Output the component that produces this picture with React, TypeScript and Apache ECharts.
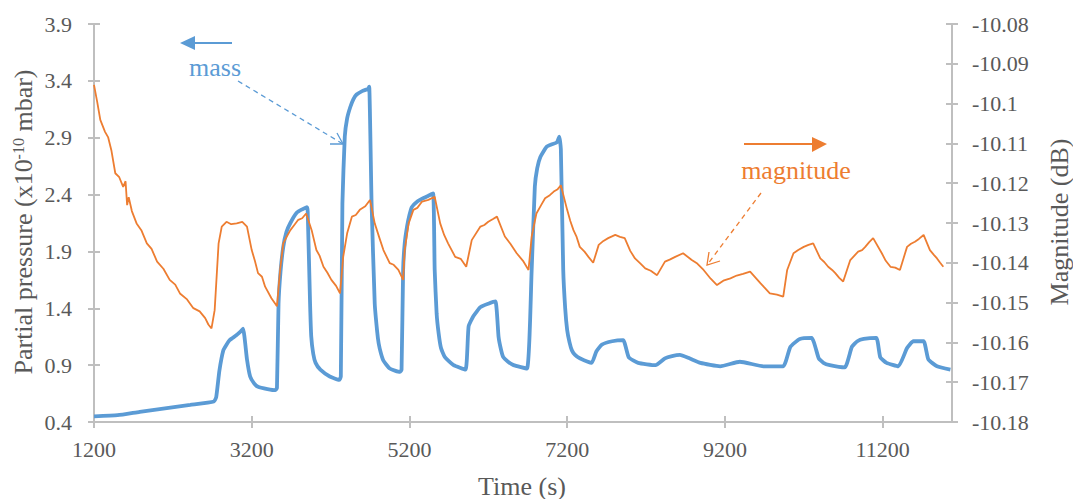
import React, { useEffect, useRef } from "react";
import * as echarts from "echarts";

// ---- data ----
const xTicks = [1200, 3200, 5200, 7200, 9200, 11200];
const leftTicks = [0.4, 0.9, 1.4, 1.9, 2.4, 2.9, 3.4, 3.9];
const rightTicks = [-10.18, -10.17, -10.16, -10.15, -10.14, -10.13, -10.12, -10.11, -10.1, -10.09, -10.08];

const massTime = [
  1200, 1500, 1780, 2100, 2420, 2720, 2750, 2790, 2840, 2880, 2920, 3000, 3050, 3090, 3140, 3180, 3230, 3280, 3400,
  3500, 3520, 3540, 3565, 3600, 3640, 3690, 3770, 3840, 3900, 3910, 3940, 3955, 3980, 4010, 4070, 4190, 4310, 4330,
  4350, 4380, 4410, 4450, 4490, 4530, 4600, 4680, 4690, 4720, 4760, 4790, 4810, 4840, 4870, 4950, 5080, 5100, 5120,
  5140, 5170, 5200, 5230, 5300, 5380, 5440, 5500, 5520, 5545, 5570, 5600, 5650, 5760, 5910, 5950, 6010, 6100, 6200,
  6290, 6330, 6360, 6390, 6450, 6520, 6690, 6750, 6790, 6820, 6860, 6940, 7000, 7070, 7100, 7120, 7150, 7175, 7200,
  7230, 7260, 7300, 7360, 7510, 7570, 7640, 7770, 7910, 7980, 8100, 8320, 8440, 8530, 8630, 8750, 8890, 9140, 9390,
  9690, 9940, 10030, 10150, 10300, 10390, 10450, 10530, 10720, 10810, 10880, 10960, 11120, 11170, 11250, 11400,
  11510, 11590, 11720, 11780, 11890, 12060,
];
const massValue = [
  0.45, 0.46, 0.49, 0.52, 0.55, 0.58, 0.62, 0.85, 1.03, 1.08, 1.12, 1.16, 1.19, 1.22, 0.95, 0.8, 0.74, 0.71, 0.69,
  0.68, 0.7, 1.44, 1.72, 1.94, 2.07, 2.15, 2.24, 2.27, 2.29, 2.25, 1.44, 1.15, 1.0, 0.92, 0.86, 0.8, 0.77, 0.8,
  2.32, 2.91, 3.07, 3.17, 3.24, 3.28, 3.31, 3.33, 3.35, 2.32, 1.44, 1.2, 1.09, 1.0, 0.94, 0.87, 0.84, 0.86, 1.74,
  1.97, 2.12, 2.22, 2.29, 2.34, 2.37, 2.39, 2.41, 1.74, 1.35, 1.18, 1.05, 0.97, 0.9, 0.86, 1.24, 1.33, 1.41, 1.44,
  1.46, 1.15, 1.04, 0.97, 0.93, 0.9, 0.87, 1.74, 2.47, 2.63, 2.73, 2.82, 2.84, 2.86, 2.91, 2.8, 1.74, 1.4, 1.21,
  1.1, 1.03, 0.99, 0.96, 0.92, 1.02, 1.08, 1.11, 1.12, 0.97, 0.92, 0.9, 0.96, 0.98, 0.99, 0.96, 0.92, 0.89, 0.93,
  0.89, 0.89, 1.06, 1.13, 1.14, 0.96, 0.92, 0.9, 0.88, 1.06, 1.11, 1.13, 1.14, 0.97, 0.92, 0.89,
  1.05, 1.11, 1.11, 0.95, 0.89, 0.86,
];

const magTime = [
  1200, 1240, 1280, 1340, 1380, 1420, 1470, 1520, 1570, 1600, 1620, 1640, 1680, 1740, 1800, 1870, 1930, 2000, 2080,
  2160, 2230, 2290, 2380, 2460, 2540, 2610, 2650, 2690, 2730, 2780, 2820, 2880, 2940, 3010, 3080, 3140, 3200, 3240,
  3280, 3330, 3370, 3450, 3520, 3560, 3600, 3650, 3690, 3740, 3790, 3840, 3890, 3960, 4020, 4060, 4110, 4160, 4210,
  4270, 4320, 4360, 4410, 4470, 4520, 4570, 4640, 4700, 4760, 4820, 4870, 4950, 5000, 5060, 5120, 5140, 5190, 5250,
  5300, 5360, 5440, 5520, 5590, 5640, 5690, 5780, 5850, 5920, 5990, 6100, 6150, 6200, 6260, 6310, 6410, 6480, 6560,
  6640, 6710, 6750, 6810, 6870, 6920, 6980, 7030, 7080, 7120, 7200, 7240, 7280, 7320, 7360, 7420, 7470, 7530, 7600,
  7660, 7720, 7810, 7870, 7930, 8000, 8060, 8130, 8190, 8260, 8340, 8440, 8500, 8570, 8670, 8780, 8850, 8930, 9020,
  9100, 9180, 9270, 9350, 9430, 9520, 9650, 9700, 9770, 9860, 9940, 9990, 10070, 10130, 10200, 10260, 10320, 10410,
  10460, 10510, 10560, 10600, 10650, 10700, 10790, 10890, 10940, 10980, 11030, 11080, 11190, 11240, 11300, 11360,
  11420, 11510, 11560, 11610, 11660, 11720, 11800, 11850, 11890, 11930, 11970,
];
const magValue = [
  -10.0953, -10.0995, -10.1041, -10.1071, -10.1085, -10.1117, -10.1175, -10.1185, -10.1209, -10.1195, -10.1255,
  -10.1235, -10.127, -10.1301, -10.1318, -10.1351, -10.1365, -10.1397, -10.1415, -10.1443, -10.1455, -10.1477,
  -10.1492, -10.1514, -10.1522, -10.1539, -10.1555, -10.1565, -10.1519, -10.1351, -10.1309, -10.1297, -10.1303,
  -10.1301, -10.1297, -10.1309, -10.1368, -10.1395, -10.1426, -10.1435, -10.146, -10.1489, -10.1509, -10.1418,
  -10.1351, -10.1332, -10.1318, -10.1305, -10.1292, -10.1288, -10.1276, -10.1318, -10.1368, -10.1382, -10.141,
  -10.1425, -10.1443, -10.1458, -10.1477, -10.1385, -10.1326, -10.1284, -10.128, -10.1267, -10.1258, -10.1242,
  -10.1301, -10.1338, -10.1368, -10.1401, -10.1405, -10.1418, -10.1443, -10.1368, -10.1301, -10.1267, -10.1262,
  -10.1246, -10.1242, -10.1234, -10.1301, -10.133, -10.1351, -10.1385, -10.139, -10.141, -10.1343, -10.1309,
  -10.1305, -10.1297, -10.129, -10.1284, -10.1334, -10.1352, -10.1376, -10.1395, -10.1418, -10.1334, -10.1276,
  -10.1255, -10.1238, -10.123, -10.1221, -10.1215, -10.1205, -10.1267, -10.1295, -10.1318, -10.1335, -10.136,
  -10.1372, -10.1385, -10.14, -10.1355, -10.1345, -10.1338, -10.133, -10.1335, -10.1338, -10.137, -10.1389,
  -10.1402, -10.1414, -10.142, -10.1431, -10.1397, -10.1392, -10.1385, -10.1376, -10.1393, -10.1402, -10.1418,
  -10.144, -10.1456, -10.1445, -10.1439, -10.1432, -10.1428, -10.1422, -10.1451, -10.1462, -10.1477, -10.148,
  -10.1485, -10.1418, -10.1376, -10.1368, -10.136, -10.1355, -10.1351, -10.1389, -10.1398, -10.141, -10.1418,
  -10.1426, -10.1438, -10.1447, -10.1393, -10.1372, -10.1368, -10.136, -10.1348, -10.1338, -10.1376, -10.1395,
  -10.141, -10.1412, -10.1418, -10.136, -10.1352, -10.1347, -10.134, -10.133, -10.1368, -10.138, -10.1389, -10.14,
  -10.141,
];

const BLUE = "#5B9BD5";
const ORANGE = "#ED7D31";
const GRAY_TEXT = "#595959";
const AXIS = "#BFBFBF";
const FONT = "'Liberation Serif', 'Times New Roman', serif";

export default function App() {
  const ref = useRef<HTMLDivElement>(null);
  useEffect(() => {
    if (!ref.current) return;
    const chart = echarts.init(ref.current, undefined, { renderer: "svg" });
    const xMin = 1200;
    const xMax = 12080;
    const axisLine = { show: true, lineStyle: { color: AXIS, width: 2 } };
    const tickOut = { show: true, length: 6, lineStyle: { color: AXIS, width: 2 } };
    const tickIn = { show: true, inside: true, length: 6, lineStyle: { color: AXIS, width: 2 } };
    const labelStyle = { color: GRAY_TEXT, fontFamily: FONT, fontSize: 22 };

    const option: any = {
      animation: false,
      backgroundColor: "#ffffff",
      grid: { left: 94, right: 121, top: 24, bottom: 77, containLabel: false },
      xAxis: [
        {
          type: "value",
          min: xMin,
          max: xMax,
          position: "bottom",
          axisLine,
          axisTick: { ...tickOut, customValues: xTicks },
          axisLabel: { ...labelStyle, margin: 16, customValues: xTicks, formatter: (v: number) => String(v) },
          splitLine: { show: false },
        },
        {
          type: "value",
          min: xMin,
          max: xMax,
          position: "bottom",
          axisLine: { show: false },
          axisTick: { ...tickIn, customValues: xTicks },
          axisLabel: { show: false },
          splitLine: { show: false },
        },
      ],
      yAxis: [
        {
          type: "value",
          min: 0.4,
          max: 3.9,
          position: "left",
          axisLine,
          axisTick: { ...tickOut, customValues: leftTicks },
          axisLabel: { ...labelStyle, margin: 22, customValues: leftTicks, formatter: (v: number) => v.toFixed(1) },
          splitLine: { show: false },
        },
        {
          type: "value",
          min: -10.18,
          max: -10.08,
          position: "right",
          axisLine,
          axisTick: { ...tickOut, customValues: rightTicks },
          axisLabel: {
            ...labelStyle,
            margin: 20,
            customValues: rightTicks,
            formatter: (v: number) => String(parseFloat(v.toFixed(2))),
          },
          splitLine: { show: false },
        },
        {
          type: "value",
          min: 0.4,
          max: 3.9,
          position: "left",
          axisLine: { show: false },
          axisTick: { ...tickIn, customValues: leftTicks },
          axisLabel: { show: false },
          splitLine: { show: false },
        },
        {
          type: "value",
          min: -10.18,
          max: -10.08,
          position: "right",
          axisLine: { show: false },
          axisTick: { ...tickIn, customValues: rightTicks },
          axisLabel: { show: false },
          splitLine: { show: false },
        },
      ],
      series: [
        {
          name: "mass",
          type: "line",
          xAxisIndex: 0,
          yAxisIndex: 0,
          showSymbol: false,
          symbol: "none",
          smooth: 0.15,
          lineStyle: { color: BLUE, width: 3.8 },
          data: massTime.map((t, i) => [t, massValue[i]]),
          z: 2,
        },
        {
          name: "magnitude",
          type: "line",
          xAxisIndex: 0,
          yAxisIndex: 1,
          showSymbol: false,
          symbol: "none",
          lineStyle: { color: ORANGE, width: 1.8 },
          data: magTime.map((t, i) => [t, magValue[i]]),
          z: 3,
        },
      ],
      graphic: [
        // axis titles
        {
          type: "text",
          x: 522,
          y: 486,
          style: { text: "Time (s)", fill: GRAY_TEXT, font: `26px ${FONT}`, align: "center", verticalAlign: "middle" },
        },
        {
          type: "text",
          x: 23,
          y: 222,
          rotation: Math.PI / 2,
          style: {
            text: "Partial pressure (x10{sup|-10} mbar)",
            fill: GRAY_TEXT,
            font: `26px ${FONT}`,
            align: "center",
            verticalAlign: "middle",
            rich: {
              sup: { fontSize: 16, fontFamily: FONT, fill: GRAY_TEXT, verticalAlign: "top", lineHeight: 26 },
            },
          },
        },
        {
          type: "text",
          x: 1059,
          y: 222,
          rotation: Math.PI / 2,
          style: { text: "Magnitude (dB)", fill: GRAY_TEXT, font: `26px ${FONT}`, align: "center", verticalAlign: "middle" },
        },
        // mass annotation
        { type: "line", shape: { x1: 232, y1: 43, x2: 192, y2: 43 }, style: { stroke: BLUE, lineWidth: 2 } },
        { type: "polygon", shape: { points: [[180, 43], [195, 36], [195, 50]] }, style: { fill: BLUE } },
        {
          type: "text",
          x: 215,
          y: 67,
          style: { text: "mass", fill: BLUE, font: `26px ${FONT}`, align: "center", verticalAlign: "middle" },
        },
        {
          type: "line",
          shape: { x1: 238, y1: 81, x2: 343, y2: 144 },
          style: { stroke: BLUE, lineWidth: 1.3, lineDash: [5, 4] },
        },
        {
          type: "polyline",
          shape: { points: [[330, 144], [343, 144], [337, 133]] },
          style: { stroke: BLUE, lineWidth: 1.3, fill: "none" },
        },
        // magnitude annotation
        { type: "line", shape: { x1: 744, y1: 144, x2: 815, y2: 144 }, style: { stroke: ORANGE, lineWidth: 2 } },
        { type: "polygon", shape: { points: [[827, 144], [812, 137], [812, 152]] }, style: { fill: ORANGE } },
        {
          type: "text",
          x: 796,
          y: 170,
          style: { text: "magnitude", fill: ORANGE, font: `26px ${FONT}`, align: "center", verticalAlign: "middle" },
        },
        {
          type: "line",
          shape: { x1: 761, y1: 193, x2: 707, y2: 265 },
          style: { stroke: ORANGE, lineWidth: 1.3, lineDash: [5, 4] },
        },
        {
          type: "polyline",
          shape: { points: [[720, 261], [707, 265], [709, 252]] },
          style: { stroke: ORANGE, lineWidth: 1.3, fill: "none" },
        },
      ],
    };
    chart.setOption(option);
    return () => chart.dispose();
  }, []);
  return (
    <div
      ref={ref}
      style={{ position: "absolute", left: 0, top: 0, width: 1073, height: 499, background: "#fff" }}
    />
  );
}
